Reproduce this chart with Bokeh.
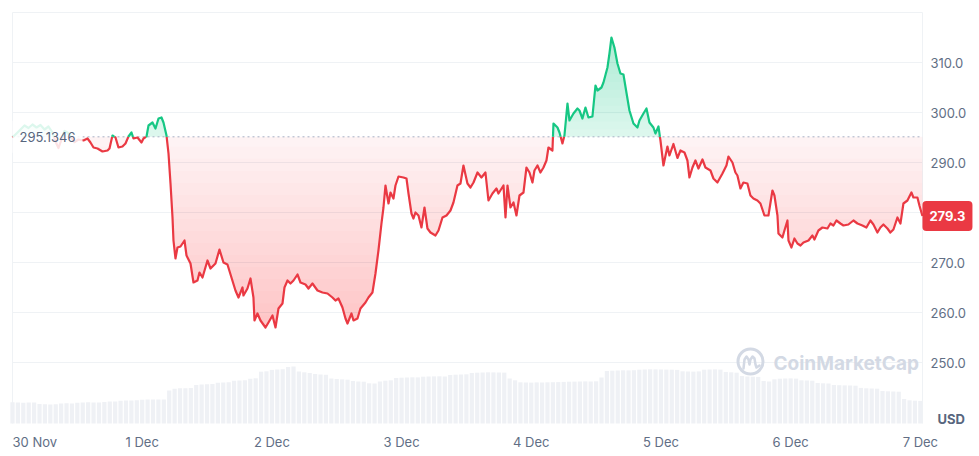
import numpy as np
from bokeh.plotting import figure
from bokeh.models import Range1d, Label
from bokeh.core.properties import value
from bokeh.embed import file_html
from bokeh.resources import INLINE

# ---------------- data ----------------
# hours since 30 Nov 00:00
hours = [0.00, 0.74, 1.48, 2.22, 2.96, 3.70, 4.44, 5.18, 5.92, 6.66, 7.40, 7.96, 8.51, 9.07, 9.62,
         10.18, 10.73, 11.47, 12.21, 13.14, 13.88, 14.43, 14.99, 15.73, 16.65, 17.58, 17.95, 18.50,
         19.06, 19.61, 20.35, 20.91, 21.46, 22.02, 22.39, 23.13, 23.87, 24.24, 24.80, 25.17, 25.91,
         26.46, 27.02, 27.57, 27.94, 28.50, 28.87, 29.24, 29.61, 29.79, 30.16, 30.53, 31.09, 31.83,
         32.20, 32.94, 33.49, 34.23, 34.60, 35.16, 36.08, 36.64, 37.56, 38.30, 39.04, 39.78, 40.52,
         41.26, 41.82, 42.56, 42.74, 43.48, 44.04, 44.59, 44.78, 45.33, 45.89, 46.82, 47.37, 48.11,
         48.67, 49.22, 49.96, 50.33, 50.89, 51.44, 52.00, 52.74, 53.29, 54.22, 54.77, 55.51, 56.44,
         57.36, 58.29, 59.21, 59.77, 60.32, 61.06, 61.62, 61.99, 62.73, 63.10, 63.84, 64.39, 65.32,
         65.87, 66.61, 67.17, 67.72, 68.28, 68.65, 69.02, 69.58, 69.95, 70.50, 70.87, 71.43, 72.35,
         72.91, 73.28, 73.83, 74.20, 74.57, 75.13, 75.68, 76.24, 76.79, 77.35, 78.27, 78.83, 79.57,
         80.31, 81.05, 81.60, 82.34, 82.90, 83.45, 84.19, 84.75, 85.31, 86.05, 86.78, 87.52, 88.08,
         88.82, 89.56, 89.93, 90.86, 91.23, 91.60, 92.15, 92.71, 93.26, 93.82, 94.56, 95.11, 95.67,
         96.22, 96.59, 97.15, 97.70, 98.26, 98.81, 99.18, 99.92, 100.11, 100.85, 101.22, 101.77,
         102.14, 102.70, 103.07, 103.81, 104.55, 104.92, 105.47, 106.03, 106.58, 107.32, 107.88,
         108.25, 108.99, 109.36, 110.10, 110.47, 110.84, 111.39, 111.95, 112.50, 113.06, 113.61,
         114.17, 114.91, 115.65, 116.02, 116.76, 117.32, 117.87, 118.61, 118.98, 119.54, 119.91,
         120.46, 121.20, 121.57, 122.31, 123.05, 123.61, 124.35, 124.90, 125.27, 125.83, 126.38,
         126.94, 127.68, 128.23, 129.16, 129.71, 130.45, 131.38, 132.12, 132.49, 133.23, 133.78,
         134.15, 134.71, 135.26, 136.00, 136.56, 137.11, 137.85, 138.41, 139.15, 139.89, 140.63,
         141.00, 141.56, 141.74, 142.48, 142.85, 143.41, 143.60, 144.15, 144.70, 145.26, 145.82,
         146.37, 147.30, 148.03, 148.40, 149.14, 149.88, 150.81, 151.36, 151.92, 152.47, 153.21,
         153.77, 154.69, 155.62, 156.36, 157.28, 158.02, 158.76, 159.32, 160.06, 160.61, 161.17,
         161.91, 162.45, 163.02, 163.76, 164.32, 164.87, 165.61, 166.35, 166.72, 167.46, 167.83,
         168.39]

prices = [295.0, 295.8, 296.6, 297.4, 296.9, 297.6, 297.0, 297.5, 296.6, 297.2, 296.0, 294.2, 292.9,
          294.6, 296.3, 296.0, 295.2, 294.1, 294.6, 294.4, 294.8, 294.0, 293.0, 292.8, 292.2, 292.4,
          292.8, 295.4, 295.0, 293.0, 293.2, 293.8, 295.2, 296.0, 294.8, 295.0, 294.0, 294.8, 295.2,
          297.4, 298.0, 296.8, 298.8, 299.0, 298.0, 295.4, 291.8, 285.8, 279.0, 274.4, 270.8, 273.0,
          273.2, 274.4, 271.4, 269.8, 266.0, 266.4, 268.0, 267.0, 270.4, 268.8, 269.8, 272.6, 270.0,
          269.6, 267.0, 264.4, 263.0, 265.0, 263.4, 264.8, 266.8, 263.0, 258.4, 259.8, 258.4, 257.0,
          258.0, 259.4, 257.0, 260.8, 261.8, 265.0, 266.4, 265.8, 266.4, 267.6, 266.0, 265.6, 264.8,
          265.8, 264.4, 264.0, 263.8, 263.0, 262.4, 262.8, 261.0, 258.8, 257.8, 259.8, 258.4, 258.8,
          260.8, 262.0, 263.0, 264.0, 267.8, 272.4, 277.8, 281.0, 285.4, 281.8, 284.0, 282.8, 285.4,
          287.2, 287.0, 286.8, 283.8, 279.8, 278.8, 280.0, 279.4, 277.0, 281.0, 276.8, 276.0, 275.4,
          276.4, 279.0, 279.4, 280.4, 282.0, 285.4, 285.8, 289.4, 285.8, 285.0, 286.0, 288.0, 287.0,
          288.0, 282.4, 283.8, 284.8, 283.8, 285.4, 279.0, 285.4, 281.0, 282.0, 279.4, 283.4, 284.0,
          289.0, 288.0, 286.0, 288.4, 289.4, 288.0, 289.0, 290.4, 293.0, 292.4, 297.8, 297.0, 296.0,
          293.8, 295.4, 301.8, 298.4, 299.8, 300.8, 300.4, 298.8, 301.0, 299.0, 299.2, 305.4, 304.4,
          305.0, 306.0, 309.0, 311.8, 315.0, 313.0, 309.8, 307.8, 307.6, 304.0, 300.4, 297.8, 297.0,
          298.4, 299.8, 300.8, 298.0, 297.0, 295.8, 297.2, 294.4, 289.4, 293.2, 291.4, 293.7, 290.9,
          292.4, 292.0, 290.4, 287.0, 289.0, 290.4, 288.8, 290.6, 289.0, 288.4, 286.8, 286.0, 287.8,
          289.4, 291.2, 290.0, 288.0, 287.4, 284.8, 286.0, 285.8, 283.4, 282.8, 282.4, 281.8, 279.4,
          279.4, 284.4, 283.4, 279.4, 275.8, 275.0, 276.4, 278.4, 274.4, 273.0, 274.8, 273.8, 273.4,
          274.0, 274.4, 275.4, 274.6, 276.4, 277.0, 276.8, 277.8, 277.4, 278.4, 277.8, 277.4, 277.6,
          278.4, 277.8, 277.4, 277.0, 278.4, 277.6, 276.0, 277.0, 277.6, 276.8, 276.0, 276.6, 279.0,
          277.8, 281.8, 282.4, 284.0, 283.0, 283.0, 281.4, 279.3]

# hourly volume (millions USD)
vol_hours = list(range(169))
volumes = [212, 210, 208, 211, 209, 194, 192, 190, 193, 200, 202, 199, 207, 210, 212, 209, 211, 214,
           219, 221, 228, 230, 231, 233, 238, 240, 241, 239, 240, 330, 348, 352, 353, 355, 386, 390,
           392, 394, 408, 410, 413, 428, 431, 433, 448, 452, 518, 522, 536, 540, 543, 565, 570, 520,
           512, 505, 495, 490, 487, 450, 445, 441, 438, 425, 420, 418, 402, 400, 420, 428, 432, 455,
           458, 460, 462, 461, 468, 470, 471, 472, 470, 485, 488, 490, 492, 505, 508, 510, 512, 511,
           510, 509, 450, 432, 412, 410, 409, 411, 410, 412, 413, 414, 416, 418, 419, 420, 421, 420,
           422, 460, 525, 528, 530, 532, 531, 533, 538, 540, 542, 541, 540, 539, 538, 536, 522, 520,
           519, 521, 538, 540, 541, 539, 515, 512, 508, 475, 470, 468, 466, 425, 420, 442, 448, 450,
           451, 449, 432, 430, 428, 405, 402, 400, 385, 383, 381, 380, 378, 356, 352, 350, 348, 325,
           322, 320, 318, 245, 232, 228, 226]

day_ticks = [0, 24, 48, 72, 96, 120, 144, 168]
day_labels = ["30 Nov", "1 Dec", "2 Dec", "3 Dec", "4 Dec", "5 Dec", "6 Dec", "7 Dec"]
price_ticks = [250, 260, 270, 280, 290, 300, 310]
grid_ticks = [250, 260, 270, 280, 290, 300, 310, 320]
open_price = 295.1346
last_price = 279.3
currency = "USD"
brand = "CoinMarketCap"

# ---------------- layout / styling ----------------
RED = "#ea3943"
GREEN = "#16c784"
GRID = "#eff2f5"
TXT = "#616e85"
WM = "#d3d9e4"
FONT = value("Inter")

W, H = 977, 455                      # canvas
PL, PR, PT, PB = 12, 922, 12, 423    # plot area edges on the canvas (px)
X0, X1 = 0.0, 168.4                  # hours shown in the plot area
Y0, Y1 = 237.8, 320.0                # prices shown in the plot area
hpx = (X1 - X0) / (PR - PL)          # hours per px
ppx = (Y1 - Y0) / (PB - PT)          # price per px
VPX = 10.0                           # volume units per px

p = figure(width=W, height=H,
           x_range=Range1d(X0 - PL * hpx, X1 + (W - PR) * hpx),
           y_range=Range1d(Y0 - (H - PB) * ppx, Y1 + PT * ppx),
           output_backend="svg", toolbar_location=None,
           x_axis_location=None, y_axis_location=None,
           min_border=0, outline_line_color=None,
           background_fill_color="white", border_fill_color="white")
p.xgrid.visible = False
p.ygrid.visible = False
p.extra_y_ranges = {"vol": Range1d(-(H - PB) * VPX, PB * VPX)}

# grid lines and plot-area border
p.segment(x0=X0, x1=X1, y0=grid_ticks, y1=grid_ticks, line_color=GRID, line_width=1)
p.segment(x0=[X0, X1], x1=[X0, X1], y0=Y0, y1=Y1, line_color=GRID, line_width=1)

# volume bars
p.vbar(x=vol_hours, top=volumes, bottom=0, width=0.78, y_range_name="vol",
       fill_color="#eff1f5", line_color=None)

# insert baseline crossings so colours switch exactly at the open price
t = np.array(hours, dtype=float)
y = np.array(prices, dtype=float)
b = open_price
xs, ys = [t[0]], [y[0]]
for i in range(1, len(t)):
    y0, y1 = y[i - 1], y[i]
    if (y0 - b) * (y1 - b) < 0:
        f = (b - y0) / (y1 - y0)
        xs.append(t[i - 1] + f * (t[i] - t[i - 1]))
        ys.append(b)
    xs.append(t[i])
    ys.append(y1)
xs = np.array(xs)
ys = np.array(ys)
red_line = np.where(ys <= b, ys, np.nan)
green_line = np.where(ys >= b, ys, np.nan)

# red gradient fill (below open)
p.varea(x=xs, y1=np.minimum(ys, b), y2=b, fill_color=RED, fill_alpha=0.06)
for L in np.linspace(b - 2.0, 257.0, 16):
    p.varea(x=xs, y1=np.minimum(ys, L), y2=L, fill_color=RED, fill_alpha=0.017)

# green gradient fill (above open)
p.varea(x=xs, y1=b, y2=np.maximum(ys, b), fill_color=GREEN, fill_alpha=0.15)
for L in np.linspace(b + 1.5, 314.0, 12):
    p.varea(x=xs, y1=L, y2=np.maximum(ys, L), fill_color=GREEN, fill_alpha=0.016)

# open-price dotted line
p.segment(x0=[X0], x1=[X1], y0=[b], y1=[b], line_color="#a6b0c3", line_dash="2 3", line_width=1)

# price line
p.line(xs, red_line, line_color=RED, line_width=2.2, line_join="round")
p.line(xs, green_line, line_color=GREEN, line_width=2.2, line_join="round")

# translucent box behind the open-price label
p.quad(left=[X0], right=[X0 + 70 * hpx], bottom=[b - 16 * ppx], top=[b + 16 * ppx],
       fill_color="white", fill_alpha=0.85, line_color=None)
p.text(x=[X0 + 7 * hpx], y=[b], text=[f"{open_price:.4f}"], text_align="left",
       text_baseline="middle", text_font=FONT, text_font_size="13px", text_color="#58667e")

# price axis labels (right)
p.text(x=X1 + 8 * hpx, y=price_ticks, text=[f"{v:.1f}" for v in price_ticks],
       text_align="left", text_baseline="middle", text_font=FONT,
       text_font_size="13px", text_color=TXT)

# day labels (bottom)
lab_y = Y0 - 18 * ppx
p.text(x=day_ticks[1:], y=lab_y, text=day_labels[1:], text_align="center",
       text_baseline="middle", text_font=FONT, text_font_size="13px", text_color=TXT)
p.text(x=[day_ticks[0]], y=lab_y, text=[day_labels[0]], text_align="left",
       text_baseline="middle", text_font=FONT, text_font_size="13px", text_color=TXT)

# currency
p.text(x=X1 + 15 * hpx, y=Y0 + 5 * ppx, text=[currency], text_align="left",
       text_baseline="middle", text_font=FONT, text_font_size="13px",
       text_font_style="bold", text_color="#58667e")

# last price tag
p.quad(left=[hours[-1]], right=[hours[-1] + 50 * hpx],
       bottom=[last_price - 15 * ppx], top=[last_price + 15 * ppx],
       fill_color=RED, line_color=None, border_radius=4)
p.text(x=[hours[-1] + 25 * hpx], y=[last_price], text=[f"{last_price:.1f}"],
       text_align="center", text_baseline="middle", text_font=FONT,
       text_font_size="13px", text_font_style="bold", text_color="white")

# watermark (logo ring + wave + word mark)
cx, cy = X0 + 738 * hpx, Y1 - 349 * ppx
p.scatter(x=[cx], y=[cy], size=25, marker="circle", fill_color=None,
          line_color=WM, line_width=3)
wave_dx = [-7, -6, -4, -2, -1, 0, 2, 4, 5, 6, 9]
wave_dy = [7, -2, -5, -2, 3, -2, -5, -3, 3, 6, 4]
p.line(x=[cx + d * hpx for d in wave_dx], y=[cy - d * ppx for d in wave_dy],
       line_color=WM, line_width=2.5, line_join="round", line_cap="round")
p.text(x=[X0 + 761 * hpx], y=[cy - 2 * ppx], text=[brand], text_align="left",
       text_baseline="middle", text_font=FONT, text_font_size="19px",
       text_font_style="bold", text_color=WM)

open("out.html", "w").write(file_html(p, INLINE))
